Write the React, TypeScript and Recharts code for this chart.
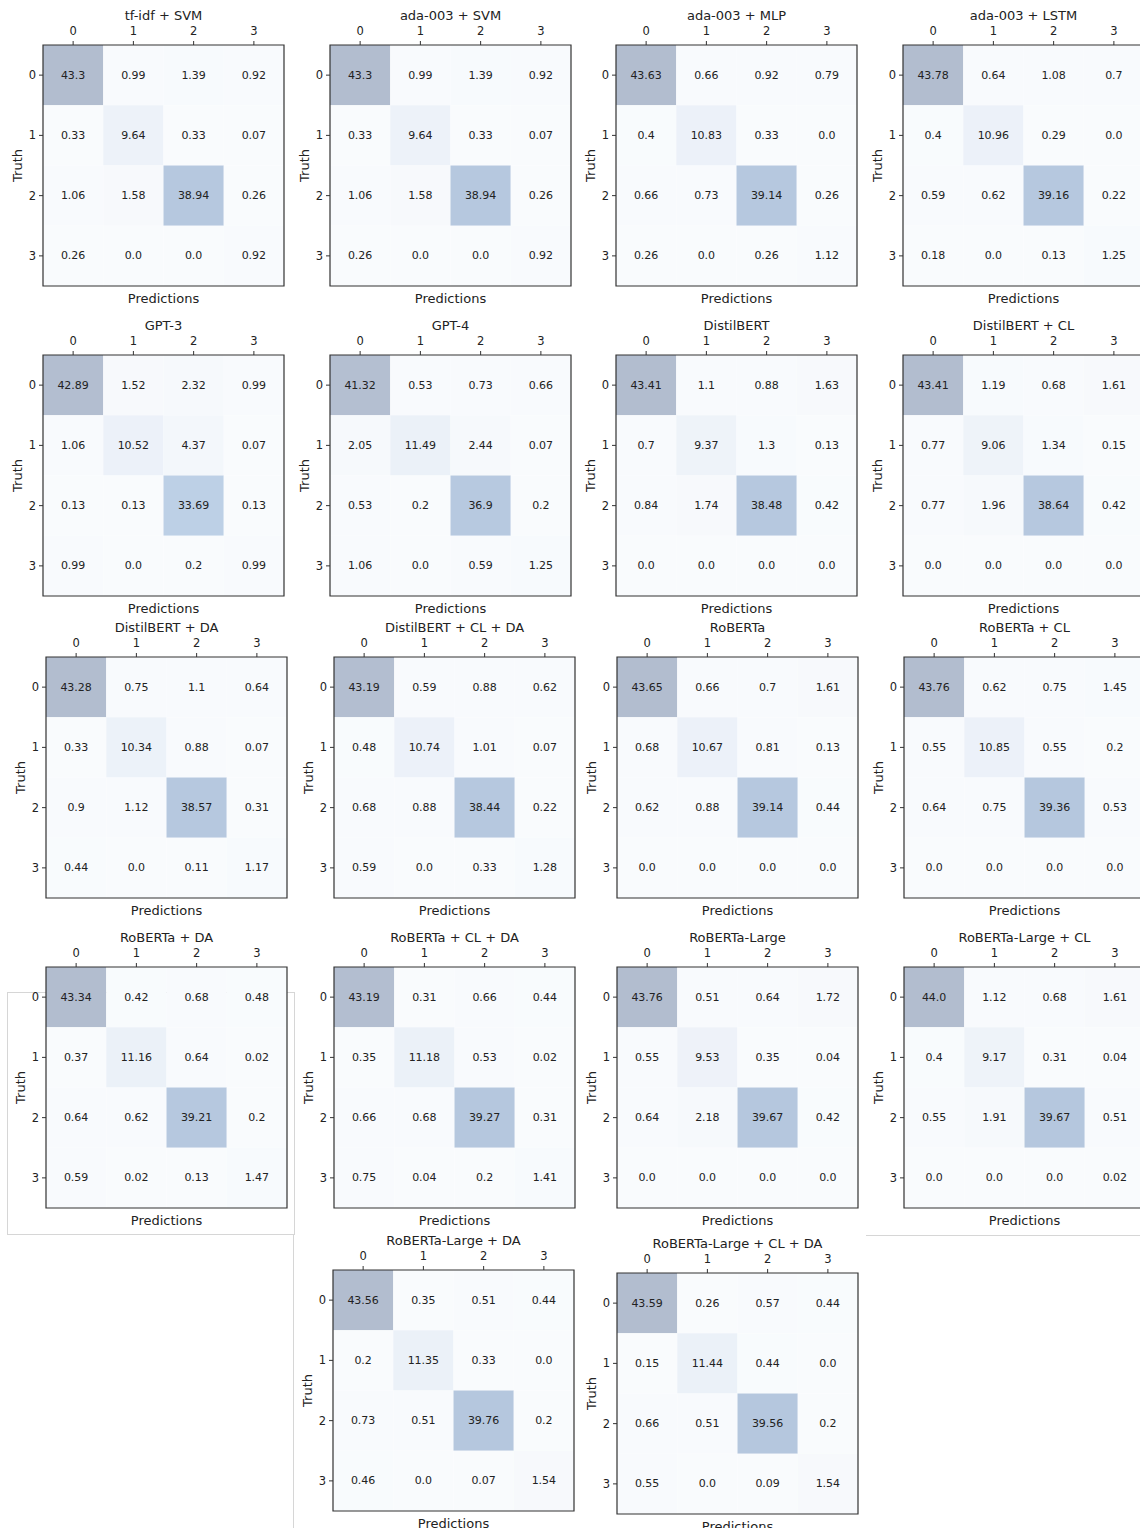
import { ScatterChart, Scatter, XAxis, YAxis, ReferenceArea } from "recharts";

const classes = [0, 1, 2, 3];

const tfidfSvm = [[43.3, 0.99, 1.39, 0.92], [0.33, 9.64, 0.33, 0.07], [1.06, 1.58, 38.94, 0.26], [0.26, 0.0, 0.0, 0.92]];
const adaSvm = [[43.3, 0.99, 1.39, 0.92], [0.33, 9.64, 0.33, 0.07], [1.06, 1.58, 38.94, 0.26], [0.26, 0.0, 0.0, 0.92]];
const adaMlp = [[43.63, 0.66, 0.92, 0.79], [0.4, 10.83, 0.33, 0.0], [0.66, 0.73, 39.14, 0.26], [0.26, 0.0, 0.26, 1.12]];
const adaLstm = [[43.78, 0.64, 1.08, 0.7], [0.4, 10.96, 0.29, 0.0], [0.59, 0.62, 39.16, 0.22], [0.18, 0.0, 0.13, 1.25]];
const gpt3 = [[42.89, 1.52, 2.32, 0.99], [1.06, 10.52, 4.37, 0.07], [0.13, 0.13, 33.69, 0.13], [0.99, 0.0, 0.2, 0.99]];
const gpt4 = [[41.32, 0.53, 0.73, 0.66], [2.05, 11.49, 2.44, 0.07], [0.53, 0.2, 36.9, 0.2], [1.06, 0.0, 0.59, 1.25]];
const distilbert = [[43.41, 1.1, 0.88, 1.63], [0.7, 9.37, 1.3, 0.13], [0.84, 1.74, 38.48, 0.42], [0.0, 0.0, 0.0, 0.0]];
const distilbertCl = [[43.41, 1.19, 0.68, 1.61], [0.77, 9.06, 1.34, 0.15], [0.77, 1.96, 38.64, 0.42], [0.0, 0.0, 0.0, 0.0]];
const distilbertDa = [[43.28, 0.75, 1.1, 0.64], [0.33, 10.34, 0.88, 0.07], [0.9, 1.12, 38.57, 0.31], [0.44, 0.0, 0.11, 1.17]];
const distilbertClDa = [[43.19, 0.59, 0.88, 0.62], [0.48, 10.74, 1.01, 0.07], [0.68, 0.88, 38.44, 0.22], [0.59, 0.0, 0.33, 1.28]];
const roberta = [[43.65, 0.66, 0.7, 1.61], [0.68, 10.67, 0.81, 0.13], [0.62, 0.88, 39.14, 0.44], [0.0, 0.0, 0.0, 0.0]];
const robertaCl = [[43.76, 0.62, 0.75, 1.45], [0.55, 10.85, 0.55, 0.2], [0.64, 0.75, 39.36, 0.53], [0.0, 0.0, 0.0, 0.0]];
const robertaDa = [[43.34, 0.42, 0.68, 0.48], [0.37, 11.16, 0.64, 0.02], [0.64, 0.62, 39.21, 0.2], [0.59, 0.02, 0.13, 1.47]];
const robertaClDa = [[43.19, 0.31, 0.66, 0.44], [0.35, 11.18, 0.53, 0.02], [0.66, 0.68, 39.27, 0.31], [0.75, 0.04, 0.2, 1.41]];
const robertaLarge = [[43.76, 0.51, 0.64, 1.72], [0.55, 9.53, 0.35, 0.04], [0.64, 2.18, 39.67, 0.42], [0.0, 0.0, 0.0, 0.0]];
const robertaLargeCl = [[44.0, 1.12, 0.68, 1.61], [0.4, 9.17, 0.31, 0.04], [0.55, 1.91, 39.67, 0.51], [0.0, 0.0, 0.0, 0.02]];
const robertaLargeDa = [[43.56, 0.35, 0.51, 0.44], [0.2, 11.35, 0.33, 0.0], [0.73, 0.51, 39.76, 0.2], [0.46, 0.0, 0.07, 1.54]];
const robertaLargeClDa = [[43.59, 0.26, 0.57, 0.44], [0.15, 11.44, 0.44, 0.0], [0.66, 0.51, 39.56, 0.2], [0.55, 0.0, 0.09, 1.54]];

// box left / top of each panel's plot area
const panels = [
  { title: "tf-idf + SVM", values: tfidfSvm, x: 43, y: 45 },
  { title: "ada-003 + SVM", values: adaSvm, x: 330, y: 45 },
  { title: "ada-003 + MLP", values: adaMlp, x: 616, y: 45 },
  { title: "ada-003 + LSTM", values: adaLstm, x: 903, y: 45 },
  { title: "GPT-3", values: gpt3, x: 43, y: 355 },
  { title: "GPT-4", values: gpt4, x: 330, y: 355 },
  { title: "DistilBERT", values: distilbert, x: 616, y: 355 },
  { title: "DistilBERT + CL", values: distilbertCl, x: 903, y: 355 },
  { title: "DistilBERT + DA", values: distilbertDa, x: 46, y: 657 },
  { title: "DistilBERT + CL + DA", values: distilbertClDa, x: 334, y: 657 },
  { title: "RoBERTa", values: roberta, x: 617, y: 657 },
  { title: "RoBERTa + CL", values: robertaCl, x: 904, y: 657 },
  { title: "RoBERTa + DA", values: robertaDa, x: 46, y: 967 },
  { title: "RoBERTa + CL + DA", values: robertaClDa, x: 334, y: 967 },
  { title: "RoBERTa-Large", values: robertaLarge, x: 617, y: 967 },
  { title: "RoBERTa-Large + CL", values: robertaLargeCl, x: 904, y: 967 },
  { title: "RoBERTa-Large + DA", values: robertaLargeDa, x: 333, y: 1270 },
  { title: "RoBERTa-Large + CL + DA", values: robertaLargeClDa, x: 617, y: 1273 },
];

const colorStops: [number, number[]][] = [
  [0, [249, 251, 253]],
  [3, [245, 248, 252]],
  [10, [237, 242, 249]],
  [12, [234, 240, 248]],
  [34, [188, 208, 230]],
  [37, [183, 201, 224]],
  [40, [181, 199, 222]],
  [41, [180, 191, 209]],
  [44, [178, 189, 207]],
];

function cellColor(v: number) {
  for (let i = 1; i < colorStops.length; i++) {
    const [v1, c1] = colorStops[i];
    const [v0, c0] = colorStops[i - 1];
    if (v <= v1) {
      const t = (v - v0) / (v1 - v0);
      const c = c0.map((a, k) => Math.round(a + (c1[k] - a) * t));
      return `rgb(${c[0]},${c[1]},${c[2]})`;
    }
  }
  const c = colorStops[colorStops.length - 1][1];
  return `rgb(${c[0]},${c[1]},${c[2]})`;
}

const fmt = (v: number) => (Number.isInteger(v) ? v.toFixed(1) : String(v));

const FONT = "'DejaVu Sans', sans-serif";
const INK = "#222";
const W = 290;
const H = 312;

function TruthLabel(props: any) {
  const vb = props.viewBox || { x: 0, y: 45, width: 43, height: 241 };
  const cx = vb.x + 17;
  const cy = vb.y + vb.height / 2;
  return (
    <text x={cx} y={cy} transform={`rotate(-90 ${cx} ${cy})`} textAnchor="middle" dominantBaseline="central"
      fontSize={13} fill={INK} fontFamily={FONT}>
      Truth
    </text>
  );
}

function CellText(props: any) {
  const { cx, cy, payload } = props;
  return (
    <text x={cx} y={cy} textAnchor="middle" dominantBaseline="central" fontSize={11} fill={INK} fontFamily={FONT}>
      {fmt(payload.v)}
    </text>
  );
}

function Matrix({ title, values, x, y }: { title: string; values: number[][]; x: number; y: number }) {
  const cells = values.flatMap((row, r) => row.map((v, c) => ({ x: c, y: r, v })));
  return (
    <div style={{ position: "absolute", left: x - 43, top: y - 45, width: W, height: H }}>
      <div style={{ position: "absolute", left: 43, top: 8, width: 241, textAlign: "center", fontSize: 13, lineHeight: "16px", color: INK, fontFamily: FONT }}>
        {title}
      </div>
      <ScatterChart width={W} height={H} margin={{ top: 20, right: 6, bottom: 0, left: 0 }}>
        <XAxis xAxisId="top" type="number" dataKey="x" orientation="top" domain={[-0.5, 3.5]} ticks={classes}
          height={25} axisLine={false} tickSize={4} tickMargin={6} tickLine={{ stroke: "#333" }}
          tick={{ fontSize: 11.5, fill: INK, fontFamily: FONT }} allowDataOverflow />
        <XAxis xAxisId="bottom" type="number" orientation="bottom" domain={[-0.5, 3.5]} ticks={classes}
          height={26} axisLine={false} tickSize={4} tickLine={{ stroke: "#333" }} tick={false} allowDataOverflow
          label={{ value: "Predictions", position: "insideBottom", offset: 9, fontSize: 13, fill: INK, fontFamily: FONT }} />
        <YAxis yAxisId="left" type="number" dataKey="y" domain={[-0.5, 3.5]} reversed ticks={classes}
          width={43} axisLine={false} tickSize={4} tickMargin={3} tickLine={{ stroke: "#333" }}
          tick={{ fontSize: 11.5, fill: INK, fontFamily: FONT }} allowDataOverflow label={<TruthLabel />} />
        {cells.map((d) => (
          <ReferenceArea key={`${d.x}-${d.y}`} xAxisId="top" yAxisId="left"
            x1={d.x - 0.5} x2={d.x + 0.5} y1={d.y - 0.5} y2={d.y + 0.5}
            fill={cellColor(d.v)} fillOpacity={1} stroke="none" ifOverflow="visible" />
        ))}
        <ReferenceArea xAxisId="top" yAxisId="left" x1={-0.5} x2={3.5} y1={-0.5} y2={3.5}
          fill="none" stroke="#333" strokeWidth={1.2} ifOverflow="visible" />
        <Scatter xAxisId="top" yAxisId="left" data={cells} shape={<CellText />} isAnimationActive={false} />
      </ScatterChart>
    </div>
  );
}

export default function App() {
  const frame = "#d6d6d6";
  return (
    <div style={{ position: "absolute", left: 0, top: 0, width: 1140, height: 1528, overflow: "hidden", background: "#fff" }}>
      <div style={{ position: "absolute", left: 7, top: 992, width: 288, height: 243, border: `1px solid ${frame}`, boxSizing: "border-box" }} />
      <div style={{ position: "absolute", left: 293, top: 1235, width: 1, height: 293, background: frame }} />
      <div style={{ position: "absolute", left: 866, top: 1235, width: 274, height: 1, background: frame }} />
      {panels.map((p) => (
        <Matrix key={p.title} {...p} />
      ))}
    </div>
  );
}
